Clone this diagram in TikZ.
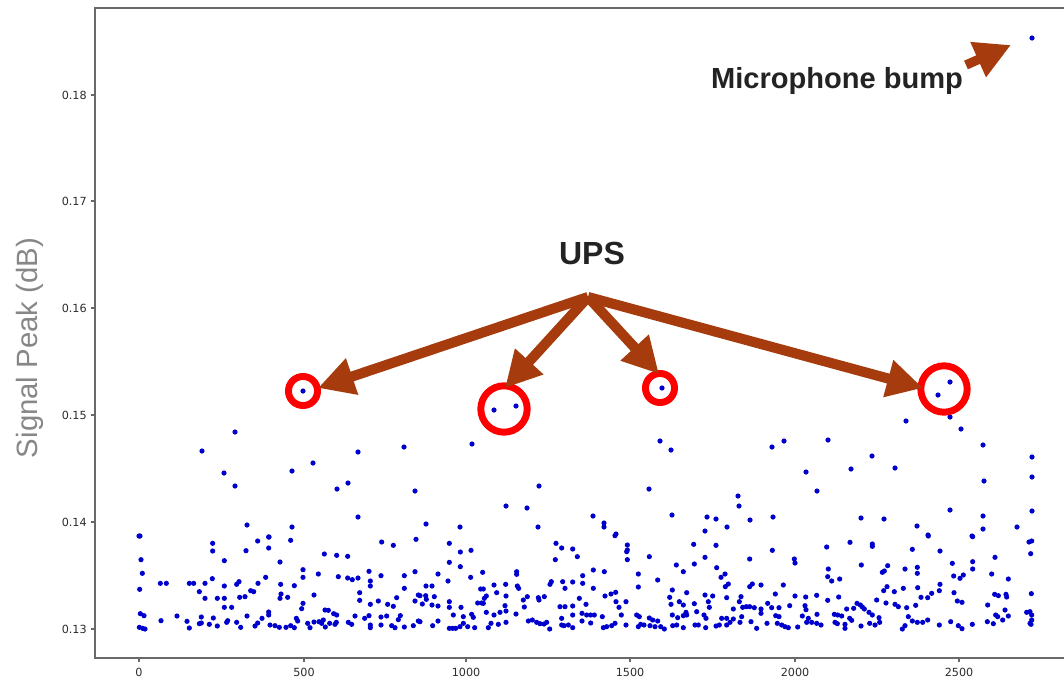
\documentclass[tikz,border=0pt]{standalone}
\usepackage{fontspec}
\setmainfont{Liberation Sans}
\newfontfamily\dejavu{DejaVu Sans}
\usetikzlibrary{arrows.meta}
\definecolor{brownarrow}{RGB}{166,60,14}
\definecolor{dotblue}{RGB}{0,0,205}
\definecolor{axisgray}{RGB}{105,105,105}
\definecolor{ticktext}{RGB}{45,45,45}
\definecolor{labelgray}{RGB}{135,135,135}
\definecolor{titletext}{RGB}{35,35,35}
\tikzset{
  dot/.style={fill=dotblue},
  pointer/.style={draw=brownarrow, line width=7.6pt, line cap=butt,
    -{Triangle[length=27pt,width=27pt]}},
  ring/.style={circle, draw=red, line width=5.2pt, inner sep=0pt},
  ytick/.style={anchor=east, font=\dejavu\fontsize{8.4}{10}\selectfont, text=ticktext, inner sep=0pt},
  xtick/.style={anchor=center, font=\dejavu\fontsize{8.4}{10}\selectfont, text=ticktext, inner sep=0pt},
}
\newcommand{\pts}[1]{\foreach \p in {#1} \fill[dot] \p circle[radius=1.95pt];}
\begin{document}
\begin{tikzpicture}[x=0.75pt,y=-0.75pt]
\useasboundingbox (0,0) rectangle (1064,679);
\fill[white] (0,0) rectangle (1064,679);
% axes
\draw[axisgray, line width=0.9pt] (1064,8) -- (95,8) -- (95,658) -- (1064,658);
% y ticks
\foreach \y/\t in {95/0.18,201/0.17,308/0.16,415/0.15,522/0.14,629/0.13}{
  \draw[axisgray, line width=0.8pt] (91,\y) -- (95,\y);
  \node[ytick] (yt\t) at (87,\y) {\t};
}
% x ticks
\foreach \x/\t in {139/0,304/500,466/1000,630/1500,795/2000,959/2500}{
  \draw[axisgray, line width=0.8pt] (\x,658) -- (\x,662);
  \node[xtick] (xt\t) at (\x,672) {\t};
}
% y label
\node[rotate=90, text=labelgray, font=\fontsize{22}{26}\selectfont, inner sep=0pt] (ylab) at (30,348) {Signal Peak (dB)};

% outlier points (pixel coordinates)
\pts{(1032,38),(303,391),(494,410),(516,406),(662,388),(950,382),(938,395),
(906,421),(950,417),(961,429),(983,445),
(235,432),(202,451),(358,452),(404,447),(224,473),(292,471),(313,463),(235,486),(337,489),(348,483),(415,491),(247,525),(292,527),(358,517),(139,536),(269,537),
(472,444),(660,441),(671,450),(539,486),(649,489),(506,506),(527,508),(738,496),(739,506),(426,524),(460,527),(538,527),(593,516),(604,523),(604,527),(616,534),(672,515),(707,517),(716,519),(727,527),(705,531),
(772,447),(784,441),(828,440),(872,456),(1032,457),(806,472),(851,469),(895,468),(984,481),(1032,477),(817,491),(950,510),(983,516),(1032,511),(750,520),(773,517),(861,518),(884,519),(917,526),(928,535),(972,536),(983,529),(1017,527)}

% dense band, left
\begin{scope}[shift={(95,535)},x=0.25pt,y=-0.25pt]
\pts{(135,3),(353,25),(488,18),(521,6),(587,16),(353,48),(453,47),(521,39),(688,57),(725,61),(758,64),(860,21),(895,31),(963,13),(138,74),(388,77),(555,81),(142,115),(624,104),(624,127),(670,117),(730,125),(758,129),(772,134),(789,129),(822,109),(826,138),(858,122),(928,122),(960,110),(134,163),(196,145),(214,145),(283,145),(296,145),(330,145),(352,131),(388,153),(425,148),(432,140),(489,145),(512,127),(557,148),(598,152),(826,153),(313,170),(467,167),(476,170),(558,177),(657,180),(794,173),(928,160),(970,180),(330,190),(367,190),(388,190),(434,187),(450,185),(555,190),(578,187),(794,196),(826,208),(850,198),(878,208),(895,214),(905,188),(960,198),(388,217),(410,217),(624,205),(620,221),(690,225),(700,226),(136,236),(147,242),(198,257),(246,243),(276,259),(319,246),(319,264),(355,249),(398,257),(425,262),(456,243),(501,250),(521,231),(521,240),(604,250),(657,261),(685,255),(716,236),(725,240),(780,243),(809,250),(822,242),(858,246),(875,243),(916,242),(910,254),(133,277),(143,280),(150,282),(283,279),(313,266),(343,268),(367,273),(395,262),(437,277),(480,273),(488,264),(525,270),(540,272),(553,277),(573,277),(587,272),(598,278),(608,258),(638,265),(645,278),(672,260),(680,265),(691,276),(704,265),(720,268),(724,262),(760,262),(770,268),(826,270),(826,278),(858,270),(890,272),(900,278),(928,276),(955,272),(970,258)}
\end{scope}
% dense band, middle
\begin{scope}[shift={(420,535)},x=0.25pt,y=-0.25pt]
\pts{(88,25),(408,25),(425,39),(458,42),(585,2),(622,30),(622,45),(620,50),(821,28),(888,31),(121,51),(153,46),(472,65),(406,74),(622,74),(688,65),(855,67),(88,82),(121,95),(823,87),(769,90),(54,117),(188,112),(290,110),(290,118),(520,105),(553,110),(655,117),(790,110),(890,98),(152,127),(488,122),(713,135),(903,127),(915,117),(84,138),(394,140),(390,148),(428,140),(458,141),(488,145),(18,153),(36,153),(182,162),(190,162),(222,150),(257,148),(292,153),(296,160),(435,160),(520,160),(655,156),(916,155),(925,147),(0,182),(17,182),(43,185),(19,193),(230,173),(258,183),(322,185),(310,195),(355,188),(357,195),(373,185),(555,183),(573,177),(587,172),(757,165),(800,173),(855,180),(878,183),(920,188),(963,185),(7,207),(36,210),(54,213),(88,200),(88,217),(123,217),(173,204),(185,204),(193,190),(199,183),(190,205),(255,212),(313,216),(478,190),(498,208),(588,200),(597,217),(618,200),(749,187),(753,208),(778,200),(790,210),(823,206),(865,200),(868,217),(958,200),(968,217),(100,240),(130,245),(155,238),(160,247),(199,232),(222,240),(240,232),(258,228),(288,237),(325,258),(337,255),(350,262),(360,266),(372,267),(380,262),(389,282),(420,215),(435,215),(425,250),(458,213),(458,240),(486,235),(500,240),(512,240),(523,240),(547,245),(604,240),(650,240),(658,245),(688,249),(698,255),(713,258),(757,240),(773,248),(790,242),(798,232),(800,240),(830,230),(852,240),(858,250),(905,250),(920,250),(940,222),(940,252),(965,245),(0,260),(38,272),(54,258),(88,280),(98,280),(107,280),(120,275),(130,265),(143,275),(164,278),(205,278),(213,265),(235,268),(258,262),(425,270),(432,272),(445,270),(458,278),(486,258),(512,264),(550,278),(560,275),(575,272),(585,265),(618,270),(655,275),(662,268),(672,270),(690,272),(705,275),(722,275),(733,282),(758,272),(770,270),(790,278),(825,270),(835,270),(857,278),(888,273),(898,270),(920,270),(930,262),(960,262)}
\end{scope}
% dense band, right
\begin{scope}[shift={(745,535)},x=0.25pt,y=-0.25pt]
\pts{(550,3),(683,5),(82,46),(245,36),(315,22),(382,27),(382,34),(502,43),(585,48),(860,18),(852,21),(857,56),(14,72),(148,72),(150,84),(349,90),(622,85),(683,80),(750,67),(250,102),(428,92),(480,102),(517,97),(517,115),(683,102),(655,120),(626,123),(645,130),(740,117),(790,132),(248,125),(260,138),(284,132),(412,112),(418,108),(585,148),(22,147),(14,155),(48,150),(115,150),(91,177),(150,183),(182,186),(215,181),(281,186),(248,196),(426,155),(416,167),(448,170),(475,160),(518,158),(583,167),(560,175),(548,188),(528,187),(627,173),(637,198),(651,202),(749,178),(760,182),(783,178),(785,186),(859,176),(4,215),(14,215),(28,218),(48,222),(48,235),(68,205),(80,218),(102,218),(92,242),(102,245),(134,212),(180,212),(183,224),(216,238),(172,243),(190,250),(268,238),(278,240),(290,243),(305,222),(314,250),(326,220),(336,205),(346,210),(352,216),(358,222),(372,232),(382,240),(395,195),(402,248),(423,204),(450,208),(460,215),(485,218),(512,211),(490,245),(502,258),(517,262),(533,262),(548,255),(752,240),(758,245),(780,225),(790,243),(845,232),(855,230),(860,240),(860,255),(855,265),(18,260),(35,280),(66,265),(97,265),(110,270),(120,275),(130,278),(158,276),(185,262),(200,262),(215,265),(228,270),(270,262),(277,266),(300,268),(300,280),(320,256),(348,273),(374,265),(390,270),(404,262),(472,282),(480,272),(583,270),(617,260),(640,272),(651,281),(682,268),(727,260),(745,266),(773,255),(728,210),(858,268)}
\end{scope}

% red rings
\node[ring, minimum size=27pt-5.2pt] (r1) at (303,391) {};
\node[ring, minimum size=40pt-5.2pt] (r2) at (504,409) {};
\node[ring, minimum size=27pt-5.2pt] (r3) at (660,388) {};
\node[ring, minimum size=40pt-5.2pt] (r4) at (944,389) {};

% annotations
\node[font=\bfseries\fontsize{24}{28}\selectfont, text=titletext, inner sep=0pt] (ups) at (592,253) {UPS};
\coordinate (hub) at (588,297);
\coordinate (t1) at (318,388);
\coordinate (t2) at (505,388);
\coordinate (t3) at (659,374);
\coordinate (t4) at (923,388);
\draw[pointer] (hub) -- (t1);
\draw[pointer] (hub) -- (t2);
\draw[pointer] (hub) -- (t3);
\draw[pointer] (hub) -- (t4);

\node[font=\bfseries\fontsize{21.8}{26}\selectfont, text=titletext, inner sep=0pt] (mic) at (837,81) {Microphone bump};
\coordinate (ms) at (966,65);
\coordinate (mt) at (1011,45);
\draw[pointer, line width=7pt] (ms) -- (mt);
\end{tikzpicture}
\end{document}
